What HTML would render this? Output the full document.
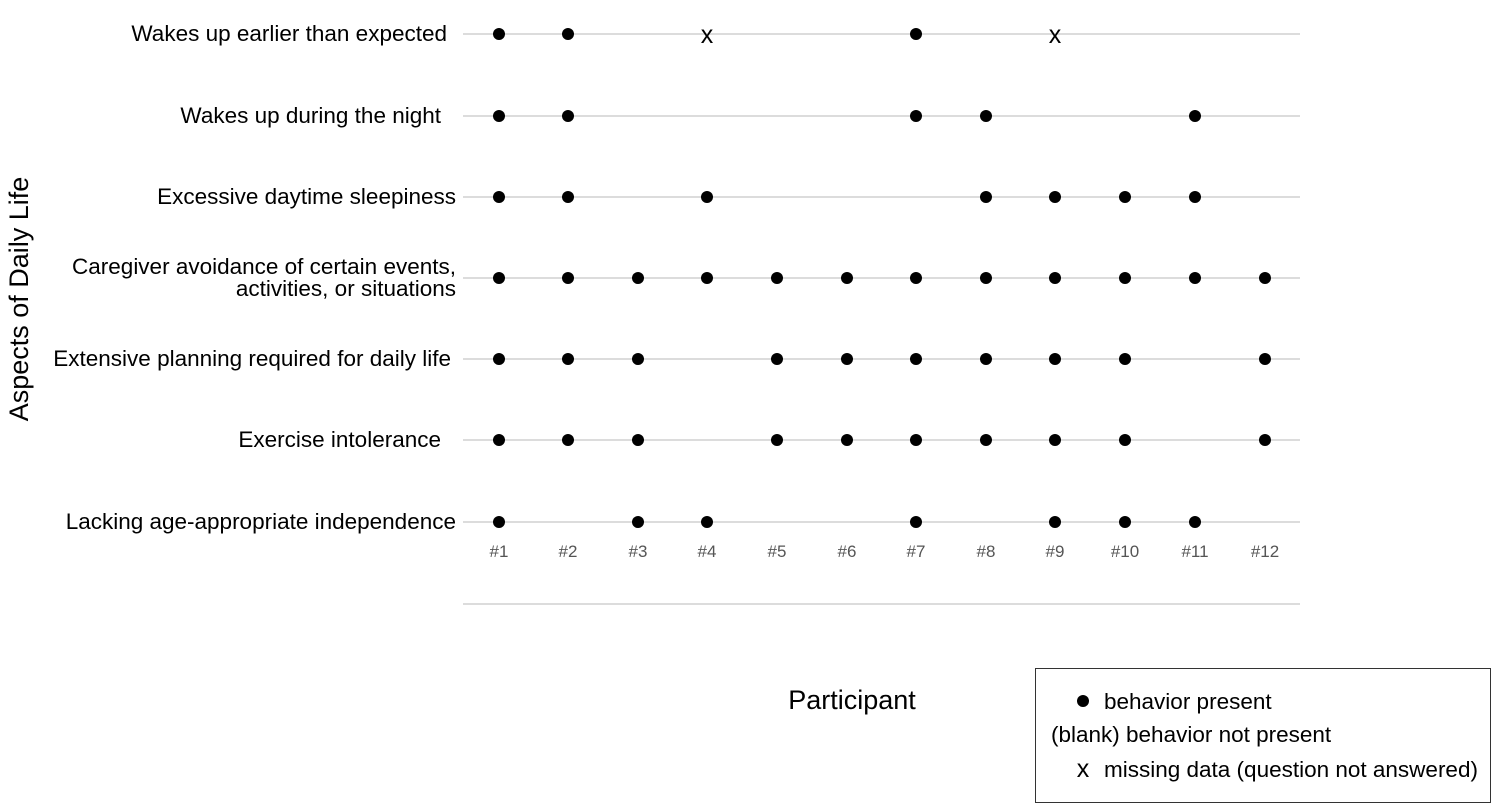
<!DOCTYPE html>
<html><head><meta charset="utf-8"><style>body{margin:0;background:#fff}svg{display:block}</style></head><body>
<svg width="1500" height="810" xmlns="http://www.w3.org/2000/svg" font-family="Liberation Sans, Arial, sans-serif">
<g stroke="#dcdcdc" stroke-width="2">
<line x1="463" x2="1300" y1="34" y2="34"/><line x1="463" x2="1300" y1="116" y2="116"/>
<line x1="463" x2="1300" y1="197" y2="197"/><line x1="463" x2="1300" y1="278" y2="278"/>
<line x1="463" x2="1300" y1="359" y2="359"/><line x1="463" x2="1300" y1="440" y2="440"/>
<line x1="463" x2="1300" y1="522" y2="522"/><line x1="463" x2="1300" y1="604" y2="604"/>
</g>
<g font-size="22.5" fill="#000" text-anchor="end">
<text x="447" y="41">Wakes up earlier than expected</text>
<text x="441" y="123">Wakes up during the night</text>
<text x="456" y="204">Excessive daytime sleepiness</text>
<text x="456" y="274">Caregiver avoidance of certain events,</text>
<text x="456" y="296">activities, or situations</text>
<text x="451" y="366">Extensive planning required for daily life</text>
<text x="441" y="447">Exercise intolerance</text>
<text x="456" y="529">Lacking age-appropriate independence</text>
</g>
<g font-size="17" fill="#555" text-anchor="middle">
<text x="499" y="557">#1</text><text x="568" y="557">#2</text><text x="638" y="557">#3</text><text x="707" y="557">#4</text>
<text x="777" y="557">#5</text><text x="847" y="557">#6</text><text x="916" y="557">#7</text><text x="986" y="557">#8</text>
<text x="1055" y="557">#9</text><text x="1125" y="557">#10</text><text x="1195" y="557">#11</text><text x="1265" y="557">#12</text>
</g>
<text x="852" y="709" font-size="27" text-anchor="middle">Participant</text>
<text transform="translate(28,299) rotate(-90)" font-size="27" text-anchor="middle">Aspects of Daily Life</text>
<g fill="#000">
<circle cx="499" cy="34" r="6"/><circle cx="568" cy="34" r="6"/><circle cx="916" cy="34" r="6"/>
<circle cx="499" cy="116" r="6"/><circle cx="568" cy="116" r="6"/><circle cx="916" cy="116" r="6"/><circle cx="986" cy="116" r="6"/><circle cx="1195" cy="116" r="6"/>
<circle cx="499" cy="197" r="6"/><circle cx="568" cy="197" r="6"/><circle cx="707" cy="197" r="6"/><circle cx="986" cy="197" r="6"/><circle cx="1055" cy="197" r="6"/><circle cx="1125" cy="197" r="6"/><circle cx="1195" cy="197" r="6"/>
<circle cx="499" cy="278" r="6"/><circle cx="568" cy="278" r="6"/><circle cx="638" cy="278" r="6"/><circle cx="707" cy="278" r="6"/><circle cx="777" cy="278" r="6"/><circle cx="847" cy="278" r="6"/><circle cx="916" cy="278" r="6"/><circle cx="986" cy="278" r="6"/><circle cx="1055" cy="278" r="6"/><circle cx="1125" cy="278" r="6"/><circle cx="1195" cy="278" r="6"/><circle cx="1265" cy="278" r="6"/>
<circle cx="499" cy="359" r="6"/><circle cx="568" cy="359" r="6"/><circle cx="638" cy="359" r="6"/><circle cx="777" cy="359" r="6"/><circle cx="847" cy="359" r="6"/><circle cx="916" cy="359" r="6"/><circle cx="986" cy="359" r="6"/><circle cx="1055" cy="359" r="6"/><circle cx="1125" cy="359" r="6"/><circle cx="1265" cy="359" r="6"/>
<circle cx="499" cy="440" r="6"/><circle cx="568" cy="440" r="6"/><circle cx="638" cy="440" r="6"/><circle cx="777" cy="440" r="6"/><circle cx="847" cy="440" r="6"/><circle cx="916" cy="440" r="6"/><circle cx="986" cy="440" r="6"/><circle cx="1055" cy="440" r="6"/><circle cx="1125" cy="440" r="6"/><circle cx="1265" cy="440" r="6"/>
<circle cx="499" cy="522" r="6"/><circle cx="638" cy="522" r="6"/><circle cx="707" cy="522" r="6"/><circle cx="916" cy="522" r="6"/><circle cx="1055" cy="522" r="6"/><circle cx="1125" cy="522" r="6"/><circle cx="1195" cy="522" r="6"/>
</g>
<g font-size="25" text-anchor="middle">
<text x="707" y="43">x</text><text x="1055" y="43">x</text>
</g>
<rect x="1035.5" y="668.5" width="455" height="134" fill="none" stroke="#333" stroke-width="1"/>
<circle cx="1083" cy="701" r="6"/>
<g font-size="22.5">
<text x="1104" y="709">behavior present</text>
<text x="1051" y="742">(blank) behavior not present</text>
<text x="1083" y="777" font-size="25" text-anchor="middle">x</text>
<text x="1104" y="777">missing data (question not answered)</text>
</g>
</svg>
</body></html>
